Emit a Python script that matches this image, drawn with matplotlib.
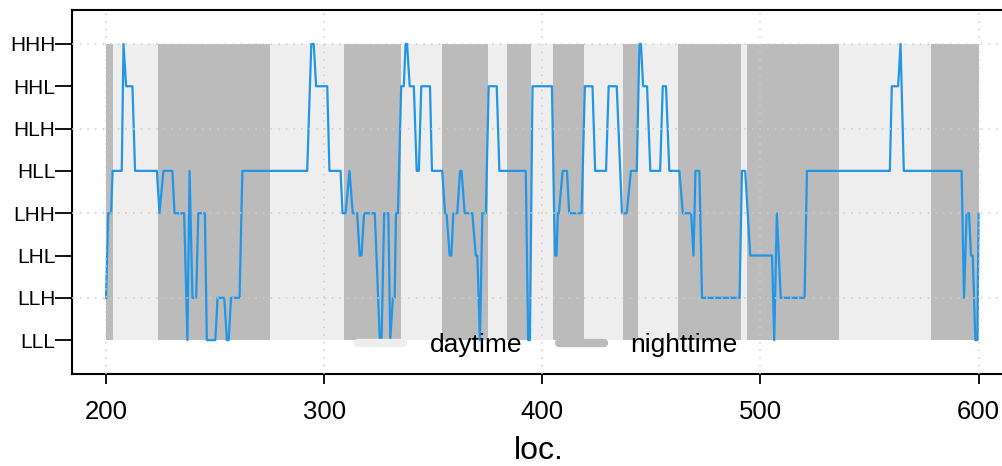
import matplotlib
matplotlib.use('Agg')
import matplotlib.pyplot as plt
from matplotlib.lines import Line2D

plt.rcParams['font.family'] = ['Liberation Sans', 'DejaVu Sans']

# state labels, bottom to top
levels = ['LLL', 'LLH', 'LHL', 'LHH', 'HLL', 'HLH', 'HHL', 'HHH']

# line vertices
loc = [200, 201, 202.3, 203, 207.2, 208, 209.2, 212.1, 213.3, 223.3, 224.5, 226.3, 230.4, 231.4,
       235.8, 237.3, 238.3, 239.6, 241.3, 242.3, 245.3, 246.2, 250.1, 251.1, 254.2, 255.4, 256.2,
       257.3, 261.2, 262.5, 292.2, 294.1, 295.2, 296.3, 301.4, 302.4, 307.5, 308.4, 309.8, 311.6,
       313.1, 315.1, 316.3, 317.1, 318.3, 323.2, 325.5, 326.3, 327.5, 329.4, 330.3, 331.5, 332.3,
       332.9, 333.8, 335.3, 336.5, 337.3, 338, 339.2, 341.1, 342.4, 343.4, 344.5, 348.5, 349.4,
       354.1, 355.4, 356.1, 357.5, 358.3, 359.2, 361, 362.3, 363, 364.4, 367.9, 369.5, 370.2,
       371.4, 372.5, 374.1, 375.4, 379.1, 380.3, 392.4, 393.5, 394.3, 395.5, 404.4, 405.4, 405.9,
       406.5, 407.1, 407.6, 409.3, 411.3, 412.3, 418, 419.5, 423, 424.2, 429.2, 430.4, 434.1,
       436.5, 438.7, 440.6, 443.3, 444.5, 445.2, 446.2, 448, 449.5, 454, 455.2, 456.7, 458.2,
       462.8, 464.4, 468.2, 469.3, 470.2, 472, 473.2, 490.4, 491.5, 493, 495.3, 505.3, 506.3,
       507.5, 509.3, 520.2, 521.3, 559.3, 560.2, 563.1, 564.2, 565.7, 592.2, 593.3, 594.5, 595.6,
       596.5, 597.3, 598.5, 599.4, 600]
state = ['LLH', 'LHH', 'LHH', 'HLL', 'HLL', 'HHH', 'HHL', 'HHL', 'HLL', 'HLL', 'LHH', 'HLL', 'HLL', 'LHH',
         'LHH', 'LLL', 'HLL', 'LLH', 'LLH', 'LHH', 'LHH', 'LLL', 'LLL', 'LLH', 'LLH', 'LLL', 'LLL',
         'LLH', 'LLH', 'HLL', 'HLL', 'HHH', 'HHH', 'HHL', 'HHL', 'HLL', 'HLL', 'LHH', 'LHH', 'HLL',
         'LHH', 'LHH', 'LHL', 'LHL', 'LHH', 'LHH', 'LLL', 'LLL', 'LHH', 'LHH', 'LLL', 'LLH', 'LLH',
         'LHH', 'LHH', 'HHL', 'HHL', 'HHH', 'HHH', 'HHL', 'HHL', 'HLL', 'HLL', 'HHL', 'HHL', 'HLL',
         'HLL', 'LHH', 'LHH', 'LHL', 'LHL', 'LHH', 'LHH', 'HLL', 'HLL', 'LHH', 'LHH', 'LHL', 'LHL',
         'LLL', 'LHH', 'LHH', 'HHL', 'HHL', 'HLL', 'HLL', 'LLL', 'LLL', 'HHL', 'HHL', 'LHH', 'LHL',
         'LHL', 'LHH', 'LHH', 'HLL', 'HLL', 'LHH', 'LHH', 'HHL', 'HHL', 'HLL', 'HLL', 'HHL', 'HHL',
         'LHH', 'LHH', 'HLL', 'HLL', 'HHH', 'HHH', 'HHL', 'HHL', 'HLL', 'HLL', 'HHL', 'HHL', 'HLL',
         'HLL', 'LHH', 'LHH', 'LHL', 'HLL', 'HLL', 'LLH', 'LLH', 'HLL', 'HLL', 'LHL', 'LHL', 'LLL',
         'LHH', 'LLH', 'LLH', 'HLL', 'HLL', 'HHL', 'HHL', 'HHH', 'HLL', 'HLL', 'LLH', 'LHH', 'LHH',
         'LHL', 'LHL', 'LLL', 'LLL', 'LHH']

# day / night bands (first band is nighttime, then alternating)
band_edges = [200, 203, 224, 275, 309, 335, 354, 375, 384, 395, 405, 419, 437, 444,
              462, 491, 494, 536, 578, 600]

day_col = '#eeeeee'
night_col = '#bbbbbb'
line_col = '#2196e8'

fig = plt.figure(figsize=(10.03, 4.66), dpi=100)
ax = fig.add_axes([0.0718, 0.1974, 0.93, 0.781])

y = [levels.index(s) for s in state]

# background bands
for i in range(len(band_edges) - 1):
    col = night_col if i % 2 == 0 else day_col
    ax.fill_between([band_edges[i], band_edges[i + 1]], 0, len(levels) - 1,
                    color=col, lw=0, zorder=1)

ax.plot(loc, y, color=line_col, lw=1.6, zorder=2)

# dotted grid drawn on top
ax.set_axisbelow(False)
for v in [200, 300, 400, 500, 600]:
    ax.axvline(v, color='#cccccc', ls=(0, (1, 4)), lw=1.1, zorder=3)
for lv in [1, 3, 5, 7]:
    ax.axhline(lv, color='#cccccc', ls=(0, (1, 4)), lw=1.1, zorder=3)

ax.set_xlim(184.4, 612)
ax.set_ylim(-0.8, 7.8)
ax.set_yticks(range(len(levels)))
ax.set_yticklabels(levels)
ax.set_xticks([200, 300, 400, 500, 600])
ax.tick_params(axis='y', length=12, width=1.3, pad=0, labelsize=15)
ax.tick_params(axis='x', length=7, width=1.3, pad=12, labelsize=18.5)
ax.set_xlabel('loc.', fontsize=23, labelpad=8)

for s in ['left', 'top', 'bottom']:
    ax.spines[s].set_linewidth(1.5)
ax.spines['right'].set_visible(False)

handles = [Line2D([], [], color=day_col, lw=6, solid_capstyle='round'),
           Line2D([], [], color=night_col, lw=6, solid_capstyle='round')]
ax.legend(handles, ['daytime', 'nighttime'], loc='center', bbox_to_anchor=(0.51, 0.08),
          ncol=2, frameon=False, fontsize=19, handlelength=1.7, columnspacing=1.4,
          handletextpad=1.0)

fig.savefig('out.png', dpi=100)
